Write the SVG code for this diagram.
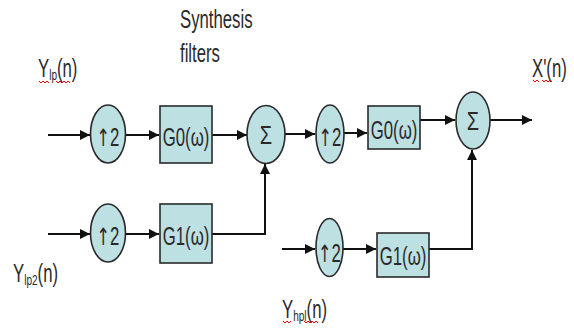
<svg xmlns="http://www.w3.org/2000/svg" width="574" height="331" viewBox="0 0 574 331">
<style>
.blk{fill:#bde0e2;stroke:#2a2a2a;stroke-width:1.6}
.lbl{font-family:"Liberation Sans","DejaVu Sans",sans-serif;font-size:25px;fill:#2a2a2a}
.arw{font-family:"DejaVu Sans",sans-serif;font-size:24px}
.sub{font-size:15px}
.mid{text-anchor:middle}
.wire{fill:none;stroke:#111;stroke-width:2}
.wavy{fill:none;stroke:#e00;stroke-width:1}
</style>
<defs>
<marker id="ah" markerUnits="userSpaceOnUse" markerWidth="11" markerHeight="10" refX="10" refY="5" orient="auto">
<path d="M0,0 L10,5 L0,10 z" fill="#111"/>
</marker>
</defs>
<rect width="574" height="331" fill="#fff"/>

<g id="title"><g transform="translate(180,28) scale(0.67,1)"><text class="lbl" x="0" y="0">Synthesis</text></g>
<g transform="translate(180,62) scale(0.67,1)"><text class="lbl" x="0" y="0">filters</text></g></g>

<g id="label-ylp"><g transform="translate(38,77) scale(0.67,1)"><text class="lbl" x="0" y="0">Y<tspan class="sub" dy="3">lp</tspan><tspan dy="-3">(n)</tspan></text></g>
<path class="wavy" d="M39,81 l2,2 l2,-2 l2,2 l2,-2 l2,2 M56,81 l2,2 l2,-2 l2,2 l2,-2 l2,2 l2,-2 l2,2"/></g>

<g id="label-ylp2"><g transform="translate(13,282) scale(0.67,1)"><text class="lbl" x="0" y="0">Y<tspan class="sub" dy="3">lp2</tspan><tspan dy="-3">(n)</tspan></text></g></g>

<g id="label-yhpl"><g transform="translate(282,318) scale(0.67,1)"><text class="lbl" x="0" y="0">Y<tspan class="sub" dy="3">hpl</tspan><tspan dy="-3">(n)</tspan></text></g>
<path class="wavy" d="M283,321 l2,2 l2,-2 l2,2 l2,-2 M304,321 l2,2 l2,-2 l2,2 l2,-2 l2,2 l2,-2 l2,2"/></g>

<g id="label-xout"><g transform="translate(532,77) scale(0.67,1)"><text class="lbl" x="0" y="0">X'(n)</text></g>
<path class="wavy" d="M533,80 l2,2 l2,-2 l2,2 M542,80 l2,2 l2,-2 l2,2 l2,-2 l2,2"/></g>

<g id="connectors">
<path class="wire" marker-end="url(#ah)" d="M48,135 H90"/>
<path class="wire" marker-end="url(#ah)" d="M126,135 H159"/>
<path class="wire" marker-end="url(#ah)" d="M212,135 H247"/>
<path class="wire" marker-end="url(#ah)" d="M285,134 H315"/>
<path class="wire" marker-end="url(#ah)" d="M344,133 H367"/>
<path class="wire" marker-end="url(#ah)" d="M420,120 H455"/>
<path class="wire" marker-end="url(#ah)" d="M490,120 H532"/>
<path class="wire" marker-end="url(#ah)" d="M48,234 H90"/>
<path class="wire" marker-end="url(#ah)" d="M126,234 H159"/>
<path class="wire" marker-end="url(#ah)" d="M212,234 H265 V164"/>
<path class="wire" marker-end="url(#ah)" d="M282,249 H315"/>
<path class="wire" marker-end="url(#ah)" d="M343,249 H376"/>
<path class="wire" marker-end="url(#ah)" d="M429,249 H472 V150"/>
</g>

<g id="up1"><ellipse class="blk" cx="108" cy="134" rx="17.5" ry="29"/>
<g transform="translate(108,146) scale(0.67,1)"><text class="lbl mid" x="0" y="0"><tspan class="arw">↑</tspan>2</text></g></g>

<g id="g0a"><rect class="blk" x="160" y="106" width="52" height="57"/>
<g transform="translate(186,146) scale(0.67,1)"><text class="lbl mid" x="0" y="0">G0(ω)</text></g></g>

<g id="sum1"><ellipse class="blk" cx="266" cy="134.5" rx="19" ry="29"/>
<g transform="translate(266,144) scale(0.8,1)"><text class="lbl mid" x="0" y="0">Σ</text></g></g>

<g id="up2"><ellipse class="blk" cx="330" cy="134" rx="14" ry="29"/>
<g transform="translate(330,146) scale(0.67,1)"><text class="lbl mid" x="0" y="0"><tspan class="arw">↑</tspan>2</text></g></g>

<g id="g0b"><rect class="blk" x="368" y="106" width="52" height="43"/>
<g transform="translate(394,139) scale(0.67,1)"><text class="lbl mid" x="0" y="0">G0(ω)</text></g></g>

<g id="sum2"><ellipse class="blk" cx="473" cy="120.5" rx="17" ry="28.5"/>
<g transform="translate(473,130) scale(0.8,1)"><text class="lbl mid" x="0" y="0">Σ</text></g></g>

<g id="up3"><ellipse class="blk" cx="108" cy="233" rx="17.5" ry="29"/>
<g transform="translate(108,245) scale(0.67,1)"><text class="lbl mid" x="0" y="0"><tspan class="arw">↑</tspan>2</text></g></g>

<g id="g1a"><rect class="blk" x="160" y="204" width="52" height="59"/>
<g transform="translate(186,245) scale(0.67,1)"><text class="lbl mid" x="0" y="0">G1(ω)</text></g></g>

<g id="up4"><ellipse class="blk" cx="329.5" cy="247.5" rx="13.5" ry="29"/>
<g transform="translate(329.5,262) scale(0.67,1)"><text class="lbl mid" x="0" y="0"><tspan class="arw">↑</tspan>2</text></g></g>

<g id="g1b"><rect class="blk" x="377" y="233" width="52" height="44"/>
<g transform="translate(403,265) scale(0.67,1)"><text class="lbl mid" x="0" y="0">G1(ω)</text></g></g>
</svg>
